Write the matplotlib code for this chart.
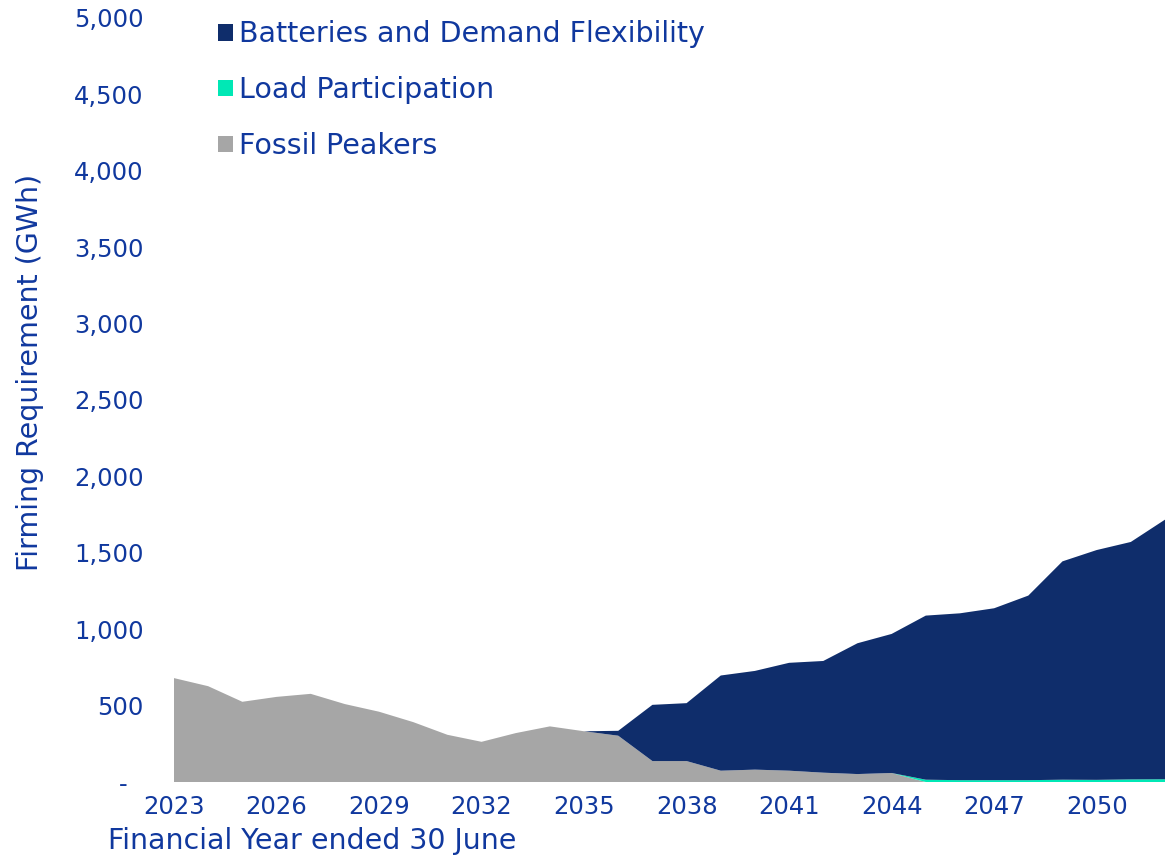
import numpy as np
import matplotlib.pyplot as plt
from matplotlib.ticker import FuncFormatter

plt.rcParams['font.family'] = ['DejaVu Sans']

years = list(range(2023, 2053))
fossil = [680, 627, 525, 557, 577, 510, 460, 392, 309, 263,
          320, 364, 332, 303, 137, 137, 74, 81, 74, 61,
          52, 59, 0, 0, 0, 0, 0, 0, 0, 0]
load = [0, 0, 0, 0, 0, 0, 0, 0, 0, 0,
        0, 0, 0, 0, 0, 0, 0, 0, 0, 0,
        0, 0, 15, 12, 12, 12, 15, 14, 17, 18]
batteries = [0, 0, 0, 0, 0, 0, 0, 0, 0, 0,
             0, 0, 0, 32, 368, 379, 623, 646, 706, 731,
             856, 910, 1074, 1092, 1125, 1208, 1429, 1504, 1554, 1699]

col_batt = '#0F2D6B'
col_load = '#00E8B5'
col_fossil = '#A6A6A6'
txt = '#10389E'

fig = plt.figure(figsize=(11.65, 8.56), dpi=100)
ax = fig.add_axes([174/1165, 74/856, 991/1165, 764/856])

polys = ax.stackplot(years, fossil, load, batteries,
                     colors=[col_fossil, col_load, col_batt],
                     labels=['Fossil Peakers', 'Load Participation',
                             'Batteries and Demand Flexibility'],
                     linewidth=0)

ax.set_xlim(2023, 2052)
ax.set_ylim(0, 5000)
ax.set_xticks(range(2023, 2052, 3))
ax.set_yticks(range(0, 5001, 500))
ax.yaxis.set_major_formatter(FuncFormatter(lambda v, p: '-  ' if v == 0 else f'{int(v):,}'))

for s in ax.spines.values():
    s.set_visible(False)
ax.tick_params(axis='both', length=0, labelsize=17.5, colors=txt)
ax.tick_params(axis='y', pad=22)
ax.tick_params(axis='x', pad=9)

fig.text(108/1165, 1 - 841/856, 'Financial Year ended 30 June', fontsize=20.5,
         color=txt, ha='left', va='center')
fig.text(30/1165, 1 - 372/856, 'Firming Requirement (GWh)', fontsize=20.5,
         color=txt, ha='center', va='center', rotation=90)

handles, labels = ax.get_legend_handles_labels()
leg = ax.legend(handles[::-1], labels[::-1], loc='upper left',
                bbox_to_anchor=(207/1165, 1 - 9/856), bbox_transform=fig.transFigure,
                frameon=False, fontsize=20.5, handlelength=0.52, handleheight=0.52,
                handletextpad=0.2, labelspacing=0.98, borderaxespad=0)
for t in leg.get_texts():
    t.set_color(txt)

fig.savefig('out.png', dpi=100)
